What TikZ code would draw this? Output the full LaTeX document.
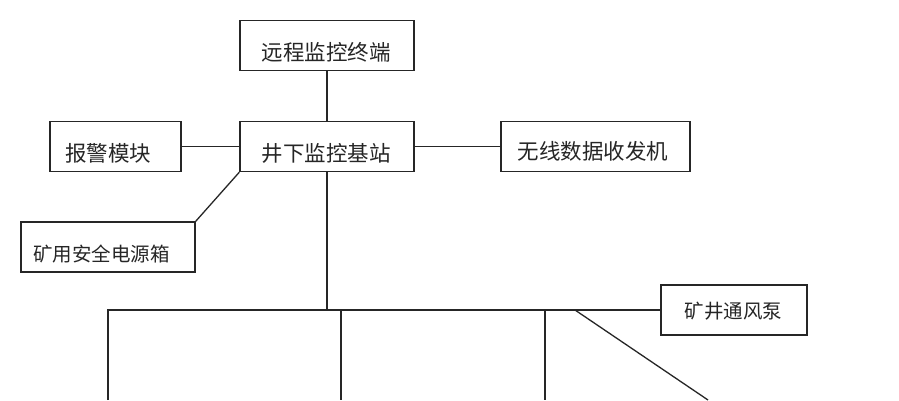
\documentclass[tikz,border=0pt]{standalone}
\usepackage{fontspec}
\newfontfamily\cjk{Noto Sans CJK SC}
\begin{document}
\begin{tikzpicture}[x=1pt,y=-1pt,
  box/.style={draw=black!85,line width=1.3pt,rectangle,inner sep=0pt},
  txtbig/.style={inner sep=0pt,font=\cjk\fontsize{21.5}{24}\selectfont,text=black!85},
  txtsmall/.style={inner sep=0pt,font=\cjk\fontsize{19.5}{22}\selectfont,text=black!85},
  wire/.style={draw=black!85,line width=1.3pt}]
\useasboundingbox[fill=white] (0,0) rectangle (899,400);
% boxes
\node[box,minimum width=174pt,minimum height=50pt] (remote) at (327,45.5) {};
\node[box,minimum width=174pt,minimum height=50pt] (base) at (327,146.5) {};
\node[box,minimum width=131pt,minimum height=50pt] (alarm) at (115.5,146.5) {};
\node[box,minimum width=174pt,minimum height=50pt] (power) at (108,247) {};
\node[box,minimum width=189pt,minimum height=50pt] (radio) at (595.5,146.5) {};
\node[box,minimum width=146pt,minimum height=50pt] (fan) at (734,310) {};
% texts
\node[txtbig] (remote-t) at (326,52) {远程监控终端};
\node[txtbig] (base-t) at (326,153) {井下监控基站};
\node[txtbig] (alarm-t) at (108,153) {报警模块};
\node[txtsmall] (power-t) at (101.5,254) {矿用安全电源箱};
\node[txtbig] (radio-t) at (593,151.5) {无线数据收发机};
\node[txtsmall] (fan-t) at (733.5,311) {矿井通风泵};
% coordinates
\coordinate (bus) at (327,310);
\coordinate (busL) at (108,310);
\coordinate (b1) at (108,400);
\coordinate (t2) at (341,310);
\coordinate (b2) at (341,400);
\coordinate (t3) at (545,310);
\coordinate (b3) at (545,400);
\coordinate (t4) at (575,310);
\coordinate (b4) at (708,400);
% connectors
\draw[wire] (remote.south) -- (base.north);
\draw[wire] (alarm.east) -- (base.west);
\draw[wire] (base.east) -- (radio.west);
\draw[wire] (base.south west) -- (power.north east);
\draw[wire] (base.south) -- (bus);
\draw[wire] (b1) -- (busL) -- (fan.west);
\draw[wire] (t2) -- (b2);
\draw[wire] (t3) -- (b3);
\draw[wire] (t4) -- (b4);
\end{tikzpicture}
\end{document}
